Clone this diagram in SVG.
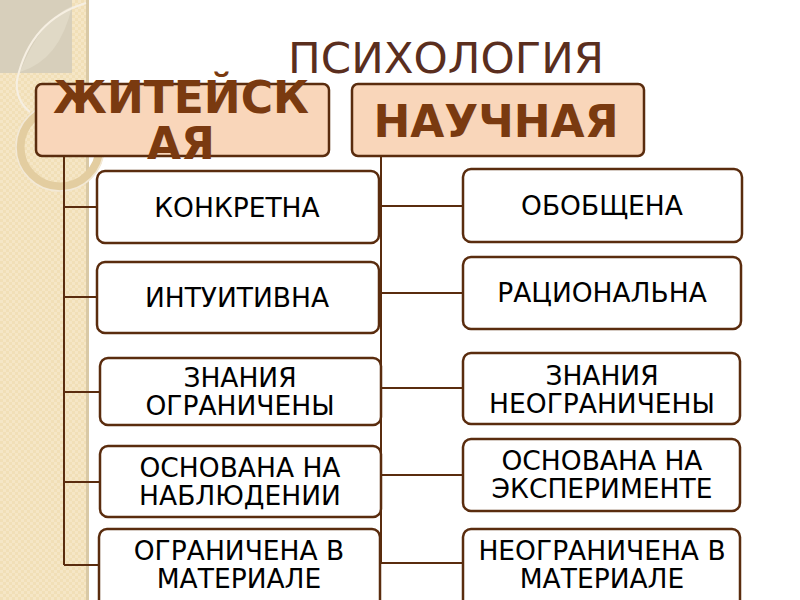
<svg xmlns="http://www.w3.org/2000/svg" width="800" height="600" viewBox="0 0 800 600">
<style>
.hdr{fill:#f9d6ba;stroke:#5a2c0e;stroke-width:2.5}
.box{fill:#ffffff;stroke:#5a2c0e;stroke-width:2.5}
.conn{stroke:#5a2c0e;stroke-width:2;fill:none}
.ht{font-family:"DejaVu Sans",Verdana,sans-serif;font-weight:bold;font-size:44px;fill:#7a3a10;text-anchor:middle}
.t{font-family:"DejaVu Sans",Verdana,sans-serif;font-size:26.5px;fill:#000000;text-anchor:middle}
.title{font-family:"DejaVu Sans",Verdana,sans-serif;font-size:43.5px;fill:#5a2e1e;text-anchor:middle}
</style>
<defs>
<pattern id="tex" width="6" height="6" patternUnits="userSpaceOnUse">
<rect width="6" height="6" fill="#f1dfb7"/>
<rect x="0" y="0" width="3" height="3" fill="#f5e6c6"/>
<rect x="3" y="3" width="3" height="3" fill="#f5e6c6"/>
</pattern>
</defs>
<rect width="800" height="600" fill="#ffffff"/>
<g id="sidebar">
<rect x="0" y="0" width="87" height="600" fill="url(#tex)"/>
<rect x="86" y="0" width="3" height="600" fill="#d9c9a6"/>
<path d="M0 0 H72 V73 H0 Z" fill="#d7cfbb"/>
<path d="M72 6 Q40 20 20 72 Q60 60 72 6 Z" fill="#e0d9c6"/>
<path d="M86 3 Q30 20 17 80 Q15 100 30 112" fill="none" stroke="#f6efe2" stroke-width="2"/>
<circle cx="60" cy="147" r="40" fill="none" stroke="#e3cda0" stroke-width="9"/>
<circle cx="60" cy="147" r="44" fill="none" stroke="#f3e9d6" stroke-width="1.5"/>
</g>
<g id="title"><text class="title" x="446" y="73">ПСИХОЛОГИЯ</text></g>
<g id="connectors">
<path class="conn" d="M64 156 V565 M64 207 H97 M64 297 H97 M64 392 H100 M64 482 H100 M64 565 H100"/>
<path class="conn" d="M381 156 V564 M381 206 H463 M381 293 H463 M381 388 H463 M381 475 H463 M381 563 H463"/>
</g>
<g id="n-zhiteiskaya">
<rect class="hdr" x="36" y="84" width="293" height="72" rx="6"/>
<text class="ht" x="181" y="113">ЖИТЕЙСК</text>
<text class="ht" x="181" y="159">АЯ</text>
</g>
<g id="n-nauchnaya">
<rect class="hdr" x="352" y="84" width="292" height="72" rx="6"/>
<text class="ht" x="496" y="137">НАУЧНАЯ</text>
</g>
<g id="n-konkretna">
<rect class="box" x="97" y="171" width="282" height="72" rx="8"/>
<text class="t" x="237" y="217">КОНКРЕТНА</text>
</g>
<g id="n-intuitivna">
<rect class="box" x="97" y="262" width="282" height="71" rx="8"/>
<text class="t" x="237" y="307">ИНТУИТИВНА</text>
</g>
<g id="n-znaniya-ogr">
<rect class="box" x="100" y="358" width="281" height="67" rx="8"/>
<text class="t" x="240" y="387">ЗНАНИЯ</text>
<text class="t" x="240" y="415">ОГРАНИЧЕНЫ</text>
</g>
<g id="n-nablyudenii">
<rect class="box" x="100" y="446" width="281" height="71" rx="8"/>
<text class="t" x="240" y="477">ОСНОВАНА НА</text>
<text class="t" x="240" y="505">НАБЛЮДЕНИИ</text>
</g>
<g id="n-ogr-material">
<rect class="box" x="99" y="529" width="281" height="80" rx="8"/>
<text class="t" x="239" y="560">ОГРАНИЧЕНА В</text>
<text class="t" x="239" y="588">МАТЕРИАЛЕ</text>
</g>
<g id="n-obobshchena">
<rect class="box" x="463" y="169" width="279" height="73" rx="8"/>
<text class="t" x="602" y="215">ОБОБЩЕНА</text>
</g>
<g id="n-racionalna">
<rect class="box" x="463" y="257" width="278" height="72" rx="8"/>
<text class="t" x="602" y="302">РАЦИОНАЛЬНА</text>
</g>
<g id="n-znaniya-neogr">
<rect class="box" x="463" y="353" width="277" height="71" rx="8"/>
<text class="t" x="602" y="385">ЗНАНИЯ</text>
<text class="t" x="602" y="413">НЕОГРАНИЧЕНЫ</text>
</g>
<g id="n-eksperimente">
<rect class="box" x="463" y="439" width="277" height="72" rx="8"/>
<text class="t" x="602" y="470">ОСНОВАНА НА</text>
<text class="t" x="602" y="498">ЭКСПЕРИМЕНТЕ</text>
</g>
<g id="n-neogr-material">
<rect class="box" x="463" y="529" width="277" height="80" rx="8"/>
<text class="t" x="602" y="560">НЕОГРАНИЧЕНА В</text>
<text class="t" x="602" y="588">МАТЕРИАЛЕ</text>
</g>
</svg>
